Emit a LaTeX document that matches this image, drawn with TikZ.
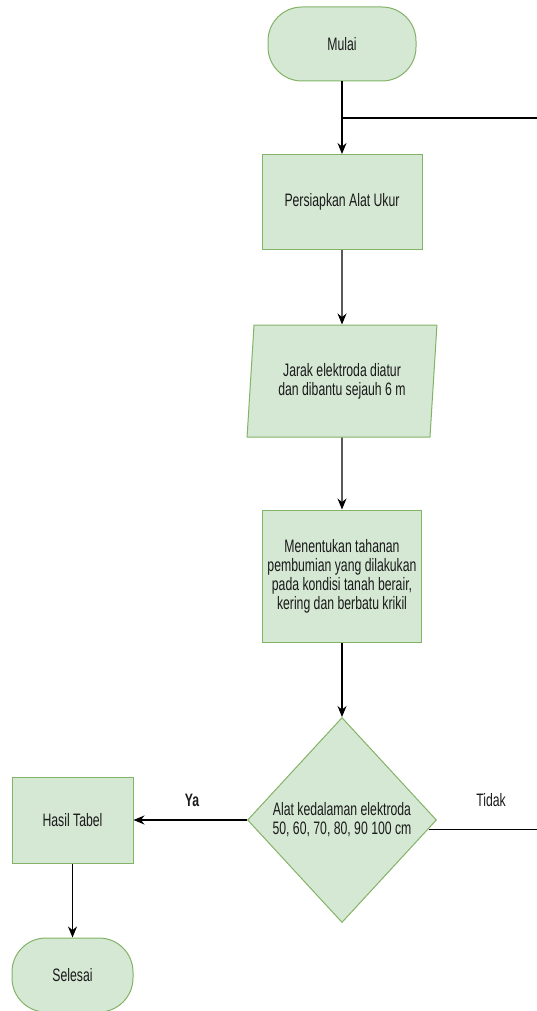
\documentclass[tikz,border=0pt]{standalone}
\usepackage{fontspec}
\setmainfont{Liberation Sans}[FakeStretch=0.68]
\usepackage{tikz}
\usetikzlibrary{arrows.meta,shapes.geometric}
\definecolor{boxfill}{HTML}{D5E8D4}
\definecolor{boxline}{HTML}{82B366}
\definecolor{ink}{HTML}{1A1A1A}
\tikzset{
  blok/.style={draw=boxline, fill=boxfill, line width=1pt, align=center, text=ink, inner sep=0pt, font=\fontsize{18}{19}\selectfont},
  proses/.style={blok, rectangle, minimum width=160pt, minimum height=95pt},
  terminal/.style={blok, rectangle, rounded corners=34pt, minimum width=148pt, minimum height=74pt},
  io/.style={blok, trapezium, trapezium left angle=82, trapezium right angle=98, trapezium stretches=true, minimum width=190pt, minimum height=112pt},
  cek/.style={blok, diamond, minimum width=189pt, minimum height=205pt},
  panah/.style={draw=black, line width=1.2pt, -{Stealth[length=11pt,width=9pt]}},
  garis/.style={draw=black, line width=1.2pt},
  lab/.style={text=ink, font=\fontsize{18}{19}\selectfont},
}
\begin{document}
\begin{tikzpicture}[x=1pt,y=-1pt]
  \useasboundingbox (0,0) rectangle (537,1011);
  \node[terminal] (mulai) at (342,44) {Mulai};
  \node[proses] (siap) at (342,202) {Persiapkan Alat Ukur};
  \node[io] (jarak) at (342,381) {Jarak elektroda diatur\\dan dibantu sejauh 6 m};
  \node[proses, minimum width=159pt, minimum height=132pt] (tentukan) at (342,576)
    {Menentukan tahanan\\pembumian yang dilakukan\\pada kondisi tanah berair,\\kering dan berbatu krikil};
  \node[cek] (cek) at (342,820) {Alat kedalaman elektroda\\50, 60, 70, 80, 90 100 cm};
  \node[proses, minimum width=121pt, minimum height=86pt] (hasil) at (72.5,820) {Hasil Tabel};
  \node[terminal, minimum width=121pt] (selesai) at (72.5,975) {Selesai};
  \coordinate (balik) at (537,118);
  \coordinate (tidak) at (537,829);
  \draw[panah] (mulai.south) -- (siap.north);
  \draw[garis] (mulai.south |- balik) -- (balik);
  \draw[panah] (siap.south) -- (jarak.north);
  \draw[panah] (jarak.south) -- (tentukan.north);
  \draw[panah] (tentukan.south) -- (cek.north);
  \draw[panah] (cek.west) -- (hasil.east);
  \draw[garis] (cek.-6) -- (cek.-6 -| tidak);
  \draw[panah] (hasil.south) -- (selesai.north);
  \node[lab, font=\fontsize{18}{19}\selectfont\bfseries] (ya) at (192,800) {Ya};
  \node[lab] (td) at (491,800) {Tidak};
\end{tikzpicture}
\end{document}
